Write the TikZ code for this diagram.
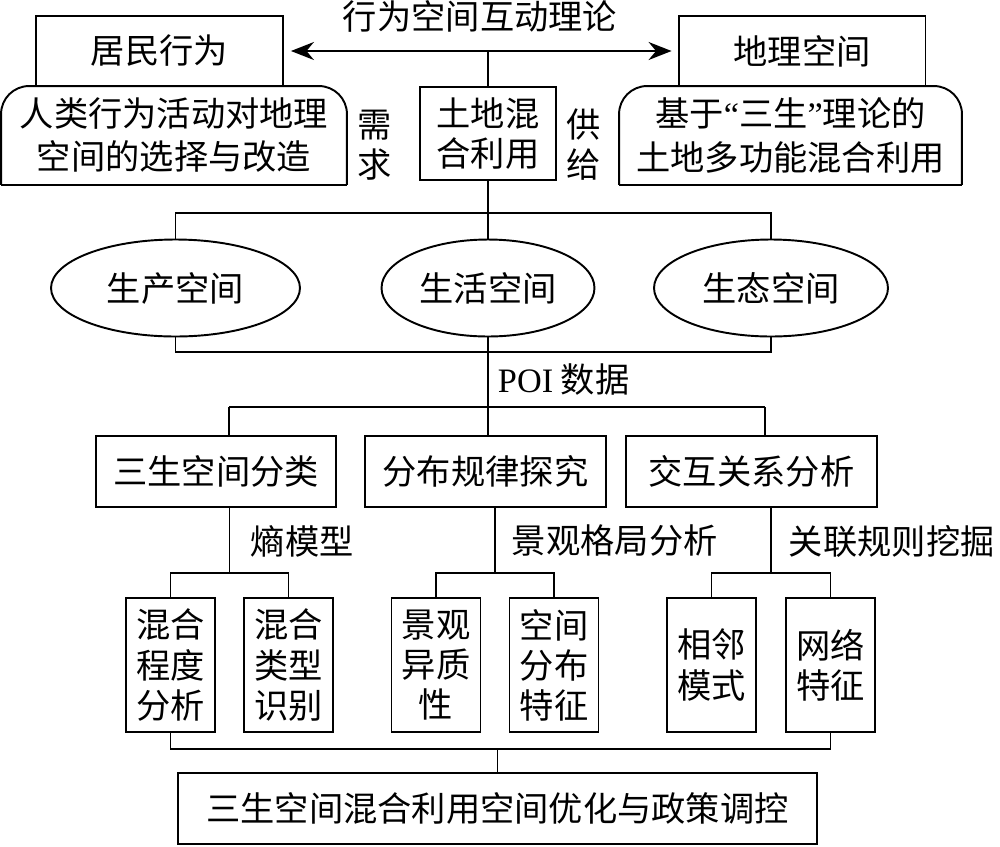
\documentclass[tikz,border=0pt]{standalone}
\usepackage{fontspec}
\setmainfont{Noto Sans CJK SC}
\newfontfamily\latinfont{Liberation Serif}
\usetikzlibrary{arrows.meta, shapes.geometric, positioning}

\begin{document}
\begin{tikzpicture}[x=0.02cm,y=-0.02cm,line width=1.1pt,
                    font=\fontsize{19.5}{22.8}\selectfont]
  \tikzstyle{box} = [draw, rectangle, inner sep=0pt, align=center]
  \tikzstyle{actor} = [box, minimum width=4.94cm, minimum height=1.4cm]
  \tikzstyle{remark} = [rectangle, inner sep=0pt, align=center, minimum height=1.94cm,
                        font=\fontsize{19.5}{24.5}\selectfont]
  \tikzstyle{spacezone} = [draw, ellipse, inner sep=0pt, minimum height=1.94cm]
  \tikzstyle{task} = [box, minimum height=1.42cm]
  \tikzstyle{method} = [box, minimum width=1.78cm, minimum height=2.68cm]
  \tikzstyle{tag} = [inner sep=0pt, align=center]
  \tikzstyle{tip} = [{Stealth[length=0.46cm,width=0.36cm]}-{Stealth[length=0.46cm,width=0.36cm]}]
  \useasboundingbox (0,0) rectangle (1000,846);

  \node [tag] (theory) at (480,16) {行为空间互动理论};
  \node [actor] (resident) at (159.5,51) {居民行为};
  \node [actor] (geo) at (802,51) {地理空间};
  \node [remark, minimum width=6.88cm] (residentnote) at (174,135.5)
    {人类行为活动对地理\\空间的选择与改造};
  \node [remark, minimum width=6.82cm] (geonote) at (790.5,135.5)
    {基于{\latinfont “}三生{\latinfont ”}理论的\\土地多功能混合利用};
  \draw [rounded corners=0.56cm] (residentnote.south west) |- (residentnote.north)
    -| (residentnote.south east);
  \draw (residentnote.south west) -- (residentnote.south east);
  \draw [rounded corners=0.56cm] (geonote.south west) |- (geonote.north)
    -| (geonote.south east);
  \draw (geonote.south west) -- (geonote.south east);
  \node [box, minimum width=2.72cm, minimum height=1.86cm] (land) at (488,133.5) {土地混\\合利用};
  \node [tag] (demand) at (375,145) {需\\求};
  \node [tag] (supply) at (584,145) {供\\给};

  \draw [tip, shorten <=0.14cm, shorten >=0.12cm] (resident.east) -- (geo.west);
  \coordinate (link) at (488,51);
  \draw (link) -- (land.north);

  \node [spacezone, minimum width=4.98cm] (prod) at (175.5,288) {生产空间};
  \node [spacezone, minimum width=4.26cm] (live) at (488,288) {生活空间};
  \node [spacezone, minimum width=4.68cm] (eco) at (771,288) {生态空间};
  \coordinate (bus1) at (488,213);
  \coordinate (bus2) at (488,352);
  \coordinate (bus3) at (488,407);
  \draw (land.south) -- (live.north);
  \draw (prod.north) |- (bus1) -| (eco.north);
  \draw (prod.south) |- (bus2) -| (eco.south);
  \draw (live.south) -- (bus3);
  \node [tag, anchor=west] (poi) at (497,380) {{\latinfont POI} 数据};

  \node [task, minimum width=4.8cm] (classify) at (216,471.5) {三生空间分类};
  \node [task, minimum width=4.82cm] (pattern) at (485.5,471.5) {分布规律探究};
  \node [task, minimum width=5.02cm] (relation) at (751.5,471.5) {交互关系分析};
  \coordinate (c1) at (229,407);
  \coordinate (c3) at (765,407);
  \draw (c1) -- (c3);
  \draw (c1) -- (c1 |- classify.north);
  \draw (bus3) -- (bus3 |- pattern.north);
  \draw (c3) -- (c3 |- relation.north);

  \coordinate (d1) at (229.5,573);
  \coordinate (d2) at (495,573);
  \coordinate (d3) at (771,573);
  \draw (d1 |- classify.south) -- (d1);
  \draw (d2 |- pattern.south) -- (d2);
  \draw (d3 |- relation.south) -- (d3);
  \node [tag, anchor=west] (entropy) at (250,541) {熵模型};
  \node [tag, anchor=west] (landscape) at (511,541) {景观格局分析};
  \node [tag, anchor=west] (rules) at (788,541) {关联规则挖掘};

  \node [method] (degree) at (170.5,665) {混合\\程度\\分析};
  \node [method] (mixtype) at (288.5,665) {混合\\类型\\识别};
  \node [method] (hetero) at (436,665) {景观\\异质\\性};
  \node [method] (spread) at (554,665) {空间\\分布\\特征};
  \node [method] (adjacent) at (711.5,665) {相邻\\模式};
  \node [method] (network) at (830.5,665) {网络\\特征};
  \draw (degree.north) |- (d1) -| (mixtype.north);
  \draw (hetero.north) |- (d2) -| (spread.north);
  \draw (adjacent.north) |- (d3) -| (network.north);

  \node [box, minimum width=12.78cm, minimum height=1.42cm] (policy) at (497.5,808.5)
    {三生空间混合利用空间优化与政策调控};
  \coordinate (e) at (497.5,749);
  \draw (degree.south) |- (e) -| (network.south);
  \draw (e) -- (policy.north);
\end{tikzpicture}
\end{document}
